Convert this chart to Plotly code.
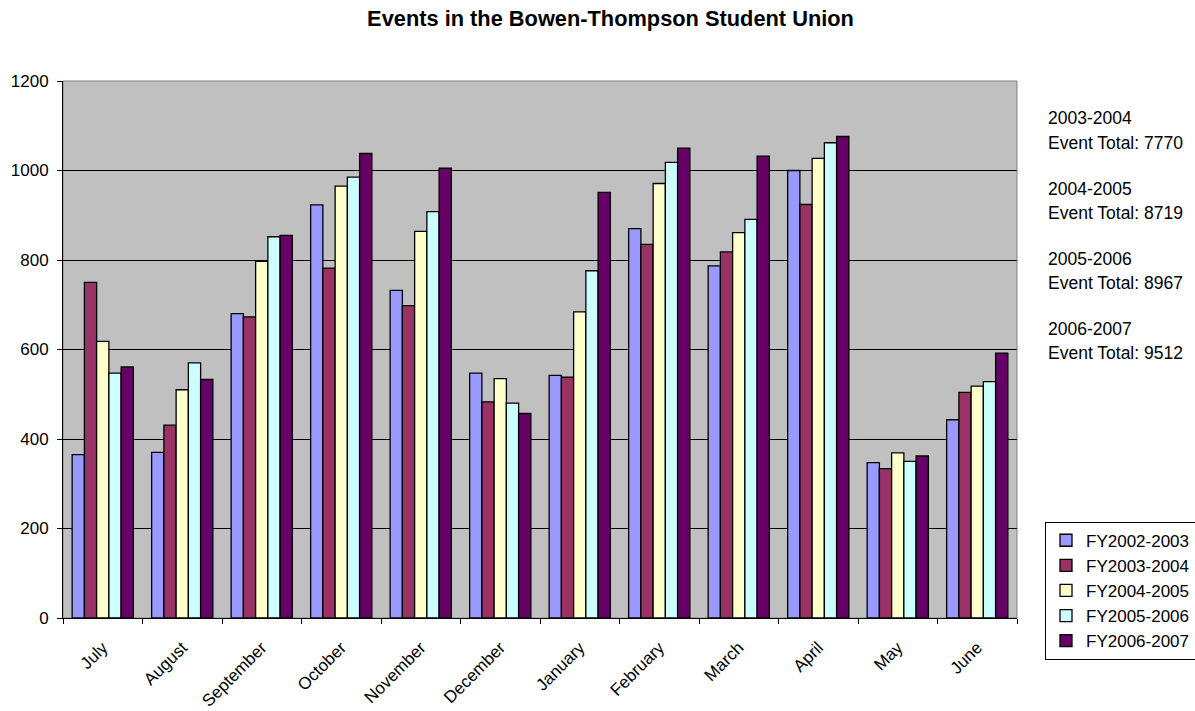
import plotly.graph_objects as go

months = ["July", "August", "September", "October", "November", "December",
          "January", "February", "March", "April", "May", "June"]

fy2002_2003 = [365, 370, 680, 923, 732, 547, 542, 870, 787, 1000, 347, 443]
fy2003_2004 = [750, 431, 673, 782, 698, 483, 538, 835, 818, 924, 334, 504]
fy2004_2005 = [618, 510, 797, 965, 864, 535, 684, 971, 861, 1027, 369, 518]
fy2005_2006 = [547, 570, 852, 985, 908, 480, 776, 1018, 891, 1062, 350, 528]
fy2006_2007 = [561, 533, 855, 1038, 1005, 457, 951, 1050, 1032, 1076, 362, 592]

series_names = ["FY2002-2003", "FY2003-2004", "FY2004-2005", "FY2005-2006", "FY2006-2007"]
series_values = [fy2002_2003, fy2003_2004, fy2004_2005, fy2005_2006, fy2006_2007]
series_colors = ["#9999FF", "#993366", "#FFFFCC", "#CCFFFF", "#660066"]

total_years = ["2003-2004", "2004-2005", "2005-2006", "2006-2007"]
total_values = [7770, 8719, 8967, 9512]

FONT = "Liberation Sans, Arial, sans-serif"

fig = go.Figure()
for i, (name, vals, col) in enumerate(zip(series_names, series_values, series_colors)):
    fig.add_trace(go.Bar(
        x=months, y=vals, name=name,
        marker=dict(color=col, line=dict(color="black", width=1.3)),
        legendgroup=f"g{i}",
    ))

# plot area geometry (pixels)
L, R, T, B = 63, 1017, 81, 618
W, H = R - L, B - T

def py(ypix):
    return (B - ypix) / H

def px(xpix):
    return (xpix - L) / W

annotations = []
for k, (yr, tot) in enumerate(zip(total_years, total_values)):
    y1 = 118.5 + 70 * k
    annotations.append(dict(text=yr, x=px(1046), y=py(y1), xref="paper", yref="paper",
                            xanchor="left", yanchor="middle", showarrow=False,
                            font=dict(family=FONT, size=17.5, color="black")))
    annotations.append(dict(text=f"Event Total: {tot}", x=px(1046), y=py(y1 + 24.5),
                            xref="paper", yref="paper",
                            xanchor="left", yanchor="middle", showarrow=False,
                            font=dict(family=FONT, size=17.5, color="black")))

fig.update_layout(
    width=1195, height=711,
    margin=dict(l=L, r=1195 - R, t=T, b=711 - B, autoexpand=False),
    paper_bgcolor="white",
    plot_bgcolor="#C0C0C0",
    barmode="group",
    bargap=0.23,
    bargroupgap=0,
    font=dict(family=FONT, size=17, color="black"),
    title=dict(text="<b>Events in the Bowen-Thompson Student Union</b>",
               x=(610.5) / 1195, xref="container", xanchor="center",
               y=1 - 18 / 711, yref="container", yanchor="middle",
               font=dict(family=FONT, size=21.8, color="black")),
    xaxis=dict(
        showline=True, linecolor="black", linewidth=1,
        ticks="outside", tickson="boundaries", ticklen=5, tickcolor="black",
        tickangle=-45, tickfont=dict(family=FONT, size=17, color="black"),
        showgrid=False,
        ticklabelstandoff=12,
    ),
    yaxis=dict(
        range=[0, 1200], dtick=200, tick0=0,
        showline=True, linecolor="black", linewidth=1,
        ticks="outside", ticklen=5, tickcolor="black",
        showgrid=True, gridcolor="black", gridwidth=1,
        zeroline=False,
        tickfont=dict(family=FONT, size=17, color="black"),
        ticklabelstandoff=5,
    ),
    legend=dict(
        x=px(1045), y=py(521.7), xanchor="left", yanchor="top",
        xref="paper", yref="paper",
        bordercolor="black", borderwidth=1, bgcolor="white",
        font=dict(family=FONT, size=17, color="black"),
        tracegroupgap=2.5,
        traceorder="normal",
    ),
    shapes=[dict(type="rect", xref="paper", yref="paper", x0=0, x1=1, y0=0, y1=1,
                 line=dict(color="#808080", width=1), layer="below")],
    annotations=annotations,
)

fig.write_html("out.html")
